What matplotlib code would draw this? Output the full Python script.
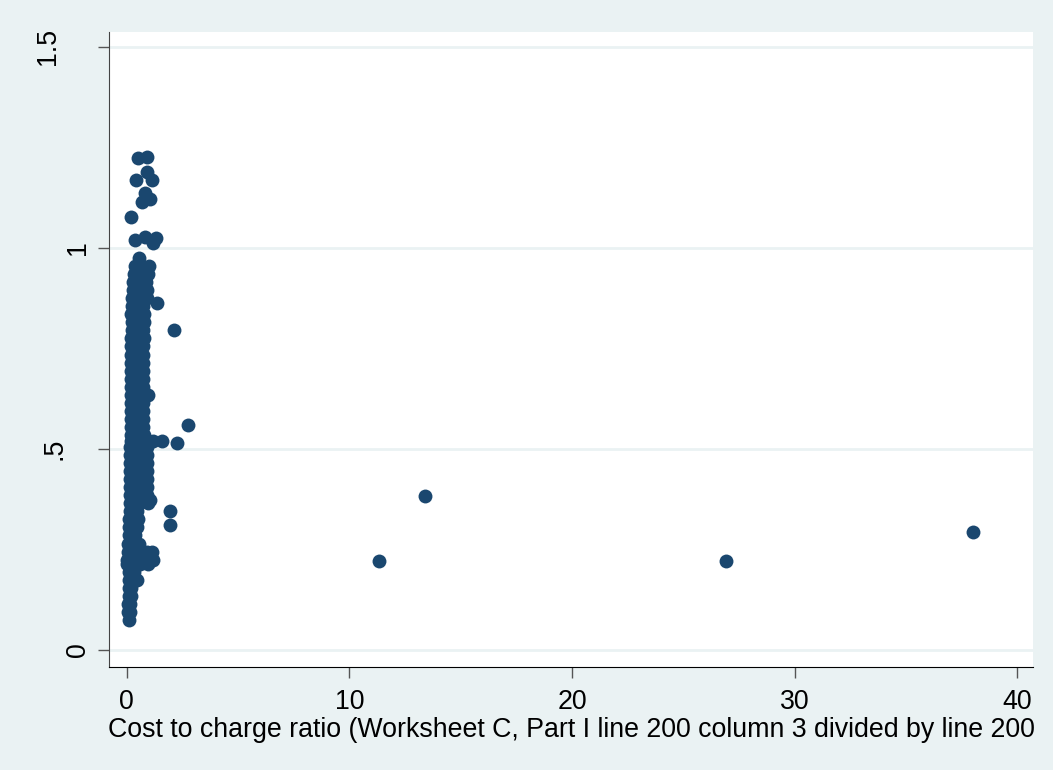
"""Scatter of cost to charge ratio against the payment ratio."""

import matplotlib.pyplot as plt
import matplotlib.transforms as mtransforms
import numpy as np


_OUT_PATH = 'out.png'

_BACKGROUND = '#EAF2F3'
_MARKER_COLOR = '#1A476F'

# Bulk of the hospitals, one row per ratio level: (ratio, [ccr values]).
_CLUSTER_ROWS = [
    (0.075, [0.10]),
    (0.095, [0.07, 0.14]),
    (0.115, [0.08, 0.16]),
    (0.135, [0.10, 0.18]),
    (0.155, [0.12, 0.20]),
    (0.175, [0.12, 0.25, 0.45]),
    (0.195, [0.10, 0.22, 0.35]),
    (0.215, [0.00, 0.25, 0.60, 0.95]),
    (0.225, [0.00, 0.30, 0.70, 1.20]),
    (0.245, [0.05, 0.40, 0.90, 1.15]),
    (0.265, [0.08, 0.35, 0.55]),
    (0.285, [0.10, 0.40]),
    (0.305, [0.12, 0.45]),
    (0.325, [0.12, 0.50]),
    (0.345, [0.14, 0.45]),
    (0.365, [0.15, 0.55, 0.95]),
    (0.385, [0.15, 0.55, 0.90]),
    (0.405, [0.15, 0.55, 0.93]),
    (0.425, [0.15, 0.55, 0.92]),
    (0.445, [0.16, 0.55, 0.93]),
    (0.465, [0.16, 0.55, 0.92]),
    (0.485, [0.16, 0.55, 0.92]),
    (0.505, [0.17, 0.55, 0.90]),
    (0.520, [0.18, 0.55, 0.95, 1.20, 1.57]),
    (0.535, [0.18, 0.50, 0.80]),
    (0.555, [0.18, 0.50, 0.75]),
    (0.575, [0.18, 0.50, 0.72]),
    (0.595, [0.20, 0.50, 0.72]),
    (0.615, [0.20, 0.50, 0.72]),
    (0.635, [0.20, 0.50, 0.97]),
    (0.655, [0.20, 0.50, 0.72]),
    (0.675, [0.20, 0.50, 0.72]),
    (0.695, [0.20, 0.50, 0.75]),
    (0.715, [0.22, 0.50, 0.75]),
    (0.735, [0.22, 0.50, 0.75]),
    (0.755, [0.22, 0.50, 0.75]),
    (0.775, [0.22, 0.50, 0.78]),
    (0.795, [0.25, 0.50, 0.75]),
    (0.815, [0.25, 0.50, 0.78]),
    (0.835, [0.22, 0.50, 0.78]),
    (0.855, [0.25, 0.55, 0.75]),
    (0.875, [0.25, 0.55, 0.90]),
    (0.895, [0.30, 0.60, 0.90]),
    (0.915, [0.30, 0.60, 0.85]),
    (0.935, [0.35, 0.60, 0.95]),
    (0.955, [0.40, 0.65, 1.00]),
    (0.975, [0.55]),
]

# Scattered hospitals above and beside the bulk.
_UPPER_CCR = [0.52, 0.90, 0.90, 0.42, 1.12, 0.82, 0.67, 1.05, 0.22,
              0.37, 0.82, 1.20, 1.32]
_UPPER_RATIO = [1.223, 1.226, 1.19, 1.17, 1.17, 1.136, 1.115, 1.123, 1.078,
                1.02, 1.028, 1.012, 1.024]

_NEAR_CCR = [1.35, 2.12, 2.77, 2.27, 1.94, 1.97, 1.05]
_NEAR_RATIO = [0.862, 0.796, 0.56, 0.516, 0.347, 0.311, 0.373]

_FAR_CCR = [11.33, 13.4, 26.9, 38.0]
_FAR_RATIO = [0.221, 0.383, 0.221, 0.293]

_X_TICKS = [0, 10, 20, 30, 40]
_Y_TICKS = [0, 0.5, 1, 1.5]
_Y_TICK_LABELS = ['0', '.5', '1', '1.5']

_X_LABEL = ('Cost to charge ratio (Worksheet C, Part I line 200 column 3 '
            'divided by line 200')

_FONT_SIZE = 19.3


def _main():
    x, y = _collect_points()
    _plot(x, y)


def _collect_points():
    x = []
    y = []
    for ratio, ccrs in _CLUSTER_ROWS:
        x.extend(ccrs)
        y.extend([ratio] * len(ccrs))
    x.extend(_UPPER_CCR + _NEAR_CCR + _FAR_CCR)
    y.extend(_UPPER_RATIO + _NEAR_RATIO + _FAR_RATIO)
    return np.array(x), np.array(y)


def _plot(x, y):

    plt.rcParams['font.family'] = ['Liberation Sans', 'DejaVu Sans']

    fig = plt.figure(figsize=(10.53, 7.7), dpi=100, facecolor=_BACKGROUND)
    ax = fig.add_axes([0.1035, 0.1338, 0.8775, 0.8246])
    ax.set_facecolor('white')

    ax.scatter(x, y, s=100, color=_MARKER_COLOR, linewidths=0, zorder=3)

    ax.set_xlim(-0.79, 40.7)
    ax.set_ylim(-0.042, 1.537)

    ax.set_xticks(_X_TICKS)
    ax.set_yticks(_Y_TICKS)
    ax.set_yticklabels([])
    ax.yaxis.grid(True, color=_BACKGROUND, linewidth=2)
    ax.set_axisbelow(True)

    ax.tick_params(axis='x', length=8, width=1, color='#555555',
                   labelsize=_FONT_SIZE, pad=8)
    ax.tick_params(axis='y', length=8, width=1, color='#555555')

    _draw_y_labels(fig, ax)

    for side in ['top', 'right']:
        ax.spines[side].set_visible(False)
    ax.spines['left'].set_color('#444444')
    ax.spines['bottom'].set_color('black')

    ax.set_xlabel(_X_LABEL, fontsize=_FONT_SIZE, labelpad=1)

    fig.savefig(_OUT_PATH, dpi=100, facecolor=_BACKGROUND)


def _draw_y_labels(fig, ax):
    # Rotated labels, set left of the spine (offsets in inches); the
    # fractional ones sit further out.
    offsets = {'0': -0.31, '.5': -0.54, '1': -0.31, '1.5': -0.61}
    for value, text in zip(_Y_TICKS, _Y_TICK_LABELS):
        shift = mtransforms.ScaledTranslation(
            offsets[text], 0, fig.dpi_scale_trans)
        ax.text(0, value, text, transform=ax.get_yaxis_transform() + shift,
                rotation=90, ha='center', va='center', fontsize=_FONT_SIZE,
                clip_on=False)


if __name__ == '__main__':
    _main()
